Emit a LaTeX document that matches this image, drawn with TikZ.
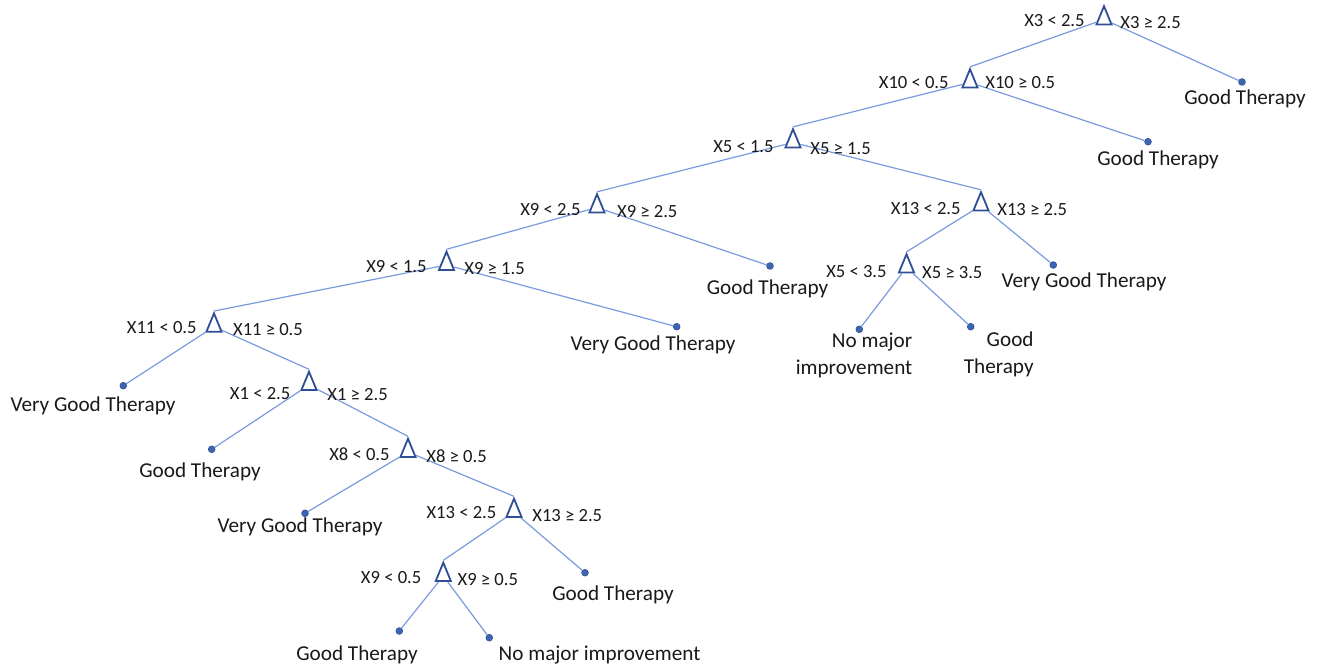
\documentclass[tikz,border=0pt]{standalone}
\usepackage{fontspec}
\setmainfont{Carlito}
\usetikzlibrary{shapes.geometric}

\definecolor{edgeblue}{RGB}{122,154,222}
\definecolor{splitblue}{RGB}{47,78,150}
\definecolor{leafblue}{RGB}{62,100,180}
\definecolor{txt}{RGB}{25,25,25}

\tikzset{
  split/.style={isosceles triangle, isosceles triangle stretches, rotate=90,
    draw=splitblue, line width=0.9pt, fill=white, inner sep=0pt,
    minimum width=7.6pt, minimum height=9.2pt},
  leaf/.style={circle, fill=leafblue, draw=leafblue!80!black, line width=0.3pt,
    inner sep=0pt, minimum size=3.4pt},
  rule/.style={text=txt, inner sep=0pt, font=\fontsize{9.3}{11}\selectfont},
  outcome/.style={text=txt, inner sep=0pt, align=right, yshift=-1pt,
    font=\fontsize{10.6}{13.3}\selectfont},
  branch/.style={draw=edgeblue, line width=0.6pt}
}

\begin{document}
\begin{tikzpicture}[x=0.5pt, y=-0.5pt]
  \useasboundingbox (0,0) rectangle (1318,665);

  % Split nodes
  \node[split] (s3) at (1104, 19.5) {};
  \node[split] (s10) at (970, 82.5) {};
  \node[split] (s5a) at (793, 142.5) {};
  \node[split] (s13a) at (981, 205.5) {};
  \node[split] (s5b) at (906.5, 267.5) {};
  \node[split] (s9a) at (597, 207.5) {};
  \node[split] (s9b) at (446.5, 265) {};
  \node[split] (s11) at (214, 326.7) {};
  \node[split] (s1) at (309, 385) {};
  \node[split] (s8) at (408, 452) {};
  \node[split] (s13b) at (514, 512) {};
  \node[split] (s9c) at (443.3, 576) {};

  % Leaves
  \node[leaf] (l1) at (1242, 82) {};
  \node[leaf] (l2) at (1148, 141.7) {};
  \node[leaf] (l3) at (859.3, 329.3) {};
  \node[leaf] (l4) at (970.7, 326.7) {};
  \node[leaf] (l5) at (1053.3, 265) {};
  \node[leaf] (l6) at (770, 266) {};
  \node[leaf] (l7) at (676.7, 326.7) {};
  \node[leaf] (l8) at (123.3, 385.7) {};
  \node[leaf] (l9) at (211.7, 449.3) {};
  \node[leaf] (l10) at (305, 513.3) {};
  \node[leaf] (l11) at (585, 572.7) {};
  \node[leaf] (l12) at (399.3, 631) {};
  \node[leaf] (l13) at (489.3, 637.7) {};

  % Branches to splits and to leaves
  \foreach \p/\c in {s3/s10, s10/s5a, s5a/s9a, s5a/s13a, s13a/s5b, s9a/s9b,
      s9b/s11, s11/s1, s1/s8, s8/s13b, s13b/s9c}
    \draw[branch] (\p) -- (\c.apex);
  \foreach \p/\c in {s3/l1, s10/l2, s5b/l3, s5b/l4, s13a/l5, s9a/l6, s9b/l7,
      s11/l8, s1/l9, s8/l10, s13b/l11, s9c/l12, s9c/l13}
    \draw[branch] (\p) -- (\c);

  % Split rules
  \node[rule, anchor=east] (r3l) at (1085, 21) {X3 < 2.5};
  \node[rule, anchor=west] (r3r) at (1120, 23) {X3 ≥ 2.5};
  \node[rule, anchor=east] (r10l) at (949, 83) {X10 < 0.5};
  \node[rule, anchor=west] (r10r) at (985, 83) {X10 ≥ 0.5};
  \node[rule, anchor=east] (r5al) at (774, 146.7) {X5 < 1.5};
  \node[rule, anchor=west] (r5ar) at (810, 149) {X5 ≥ 1.5};
  \node[rule, anchor=east] (r13al) at (961, 209) {X13 < 2.5};
  \node[rule, anchor=west] (r13ar) at (997, 210) {X13 ≥ 2.5};
  \node[rule, anchor=east] (r5bl) at (887, 271.7) {X5 < 3.5};
  \node[rule, anchor=west] (r5br) at (921.7, 272.7) {X5 ≥ 3.5};
  \node[rule, anchor=east] (r9al) at (581, 210) {X9 < 2.5};
  \node[rule, anchor=west] (r9ar) at (616.7, 212) {X9 ≥ 2.5};
  \node[rule, anchor=east] (r9bl) at (427, 266.7) {X9 < 1.5};
  \node[rule, anchor=west] (r9br) at (464, 269) {X9 ≥ 1.5};
  \node[rule, anchor=east] (r11l) at (197, 328) {X11 < 0.5};
  \node[rule, anchor=west] (r11r) at (232.7, 330) {X11 ≥ 0.5};
  \node[rule, anchor=east] (r1l) at (290.7, 393.3) {X1 < 2.5};
  \node[rule, anchor=west] (r1r) at (327, 395) {X1 ≥ 2.5};
  \node[rule, anchor=east] (r8l) at (390, 454) {X8 < 0.5};
  \node[rule, anchor=west] (r8r) at (426, 456) {X8 ≥ 0.5};
  \node[rule, anchor=east] (r13bl) at (496.7, 513) {X13 < 2.5};
  \node[rule, anchor=west] (r13br) at (532, 516) {X13 ≥ 2.5};
  \node[rule, anchor=east] (r9cl) at (421.7, 577.3) {X9 < 0.5};
  \node[rule, anchor=west] (r9cr) at (457.3, 579.3) {X9 ≥ 0.5};

  % Outcomes
  \node[outcome] (o1) at (1245, 97) {Good Therapy};
  \node[outcome] (o2) at (1158, 157.7) {Good Therapy};
  \node[outcome, anchor=east] (o3) at (912.7, 353.3) {No major\\improvement};
  \node[outcome, anchor=east] (o4) at (1034, 352.5) {Good\\Therapy};
  \node[outcome] (o5) at (1084, 280) {Very Good Therapy};
  \node[outcome] (o6) at (767.5, 286.7) {Good Therapy};
  \node[outcome] (o7) at (653, 342.7) {Very Good Therapy};
  \node[outcome] (o8) at (93, 404) {Very Good Therapy};
  \node[outcome] (o9) at (200, 470) {Good Therapy};
  \node[outcome] (o10) at (300, 525) {Very Good Therapy};
  \node[outcome] (o11) at (613, 593.3) {Good Therapy};
  \node[outcome] (o12) at (357, 652.7) {Good Therapy};
  \node[outcome] (o13) at (599.5, 652.7) {No major improvement};
\end{tikzpicture}
\end{document}
